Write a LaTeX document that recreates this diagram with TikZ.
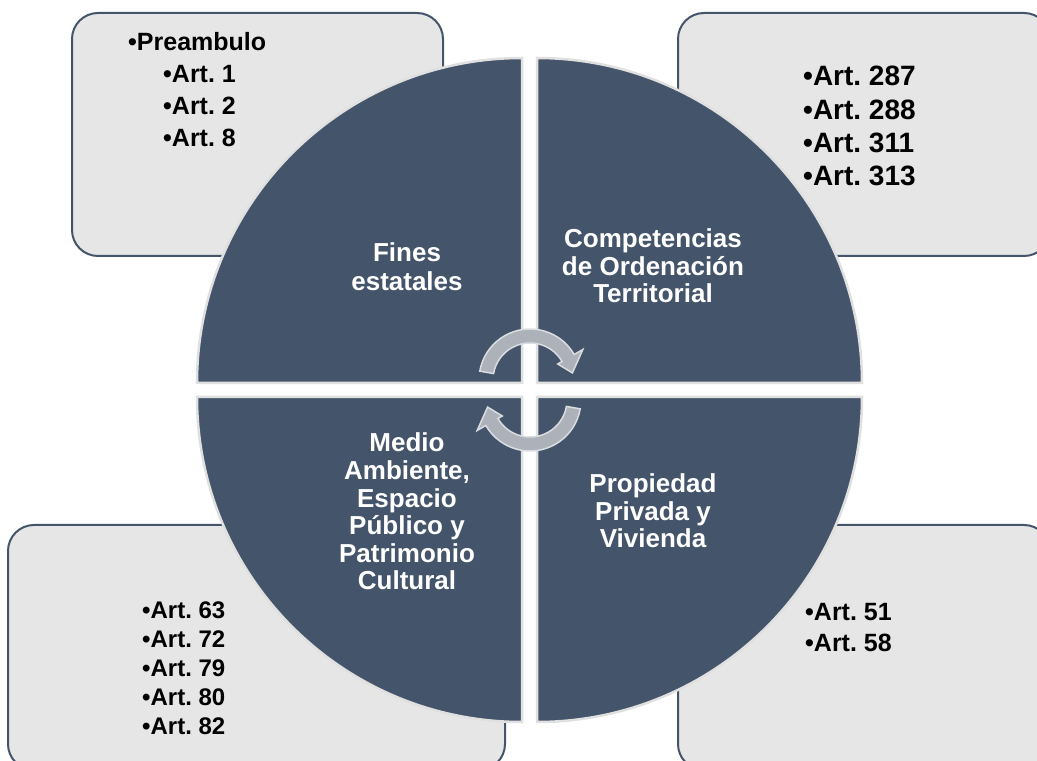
\documentclass[tikz,border=0pt]{standalone}
\usepackage{fontspec}
\setmainfont{Liberation Sans}
\frenchspacing

\definecolor{slate}{HTML}{44546A}
\definecolor{panelgray}{HTML}{E7E6E6}
\definecolor{arrowgray}{HTML}{ADB2BA}
\definecolor{arrowedge}{HTML}{D9DCE0}
\definecolor{rimgray}{HTML}{E0E0E0}

\tikzset{
    panel/.style={draw=slate, line width=2pt, fill=panelgray, rounded corners=26pt},
    quadrant/.style={fill=slate, draw=rimgray, line width=2.5pt},
    cyclearrow/.style={fill=arrowgray, draw=arrowedge, line width=1.5pt},
    quadtext/.style={text=white, align=center, inner sep=0pt, anchor=base,
        font=\bfseries\fontsize{26}{27.6}\selectfont},
    item/.style={inner sep=0pt, anchor=base west, font=\bfseries\fontsize{#1}{#1}\selectfont},
}

\begin{document}
\begin{tikzpicture}[x=1pt, y=1pt]
        \useasboundingbox (0,0) rectangle (1037,761);

        % outer panels
        \draw[panel] (72,505) rectangle (443,748);
        \draw[panel] (678,505) rectangle (1050,748);
        \draw[panel] (8,-9) rectangle (505,236);
        \draw[panel] (678,-9) rectangle (1050,236);

        % the four quarters
        \draw[quadrant] (522,378) -- ++(-325,0) arc[start angle=180, end angle=90, radius=325] -- cycle;
        \draw[quadrant] (537,378) -- ++(0,325) arc[start angle=90, end angle=0, radius=325] -- cycle;
        \draw[quadrant] (537,364) -- ++(325,0) arc[start angle=0, end angle=-90, radius=325] -- cycle;
        \draw[quadrant] (522,364) -- ++(0,-325) arc[start angle=270, end angle=180, radius=325] -- cycle;

        % cycle arrows
        \begin{scope}[shift={(530,381)}]
            \draw[cyclearrow] (170:51) arc[start angle=170, end angle=30, radius=51]
                -- (30:61) -- (9.5:43) -- (30:32) -- (30:37)
                arc[start angle=30, end angle=170, radius=37] -- cycle;
        \end{scope}
        \begin{scope}[shift={(530,361)}]
            \draw[cyclearrow] (350:51) arc[start angle=350, end angle=210, radius=51]
                -- (210:61) -- (189.5:43) -- (210:32) -- (210:37)
                arc[start angle=210, end angle=350, radius=37] -- cycle;
        \end{scope}

        % base = last line
        \node[quadtext] (fines) at (407,470) {Fines\\[1.4pt]estatales};
        \node[quadtext] (compet) at (653,458) {Competencias\\de Ordenación\\Territorial};
        \node[quadtext] (medio) at (407,171) {Medio\\Ambiente,\\Espacio\\Público y\\Patrimonio\\Cultural};
        \node[quadtext] (propie) at (653,213) {Propiedad\\Privada y\\Vivienda};

        \node[item=25] (pream) at (128,710) {•Preambulo};
        \node[item=25] (art1) at (163,678) {•Art. 1};
        \node[item=25] (art2) at (163,646) {•Art. 2};
        \node[item=25] (art8) at (163,614) {•Art. 8};

        \node[item=28] (art287) at (803,675) {•Art. 287};
        \node[item=28] (art288) at (803,641.5) {•Art. 288};
        \node[item=28] (art311) at (803,608) {•Art. 311};
        \node[item=28] (art313) at (803,575) {•Art. 313};

        \node[item=24] (art63) at (142,142) {•Art. 63};
        \node[item=24] (art72) at (142,113) {•Art. 72};
        \node[item=24] (art79) at (142,84) {•Art. 79};
        \node[item=24] (art80) at (142,55) {•Art. 80};
        \node[item=24] (art82) at (142,26) {•Art. 82};

        \node[item=25] (art51) at (805,140) {•Art. 51};
        \node[item=25] (art58) at (805,109) {•Art. 58};

\end{tikzpicture}
\end{document}
